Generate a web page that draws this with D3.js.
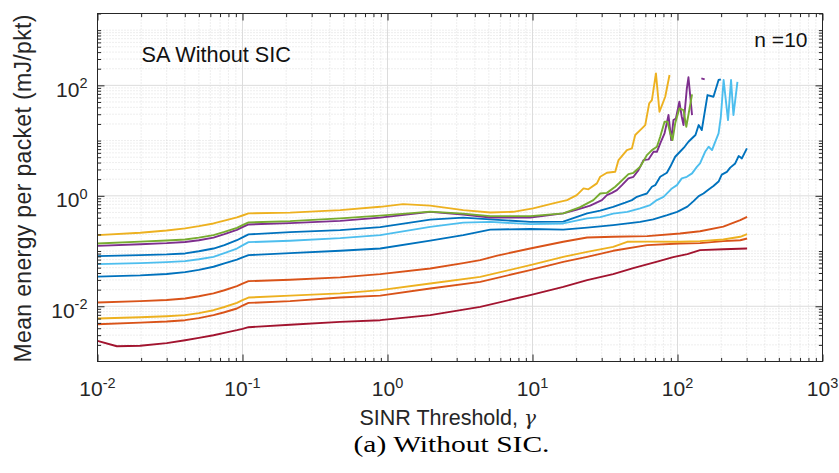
<!DOCTYPE html>
<html>
<head>
<meta charset="utf-8">
<script src="https://cdn.jsdelivr.net/npm/d3@7"></script>
<style>
  body { margin: 0; background: #fff; }
  svg { display: block; font-family: "Liberation Sans", Arial, Helvetica, sans-serif; }
</style>
</head>
<body>
<svg id="chart" width="839" height="473"></svg>
<script>
// ---- data: [SINR threshold gamma, mean energy per packet (mJ/pkt)] ----
const blueUpper = [[0.01,0.0809],[0.0197,0.0843],[0.03,0.087],[0.0402,0.0905],[0.05,0.099],[0.0631,0.111],[0.075,0.128],[0.0915,0.157],[0.1,0.177],[0.110,0.200],[0.213,0.220],[0.472,0.239],[0.891,0.271],[1.97,0.371],[3.33,0.403],[5.11,0.374],[9.64,0.338],[16.3,0.341],[23.8,0.480],[29.3,0.539],[36.0,0.632],[43.6,0.753],[48.5,0.836],[52.5,0.959],[56.8,1.03],[61.5,1.10],[66.6,1.46],[70.2,1.56],[76.0,2.21],[84.5,2.61],[89.1,3.35],[96.4,5.09],[104,6.27],[112,7.72],[119,9.51],[126,11.0],[133,12.6],[140,19.1],[147,15.5],[161,66.7],[177,62.1],[192,125],[199,128]];
const orangeUpper = [[0.01,0.0117],[0.0197,0.0124],[0.03,0.0130],[0.0402,0.0138],[0.05,0.0152],[0.0631,0.0171],[0.075,0.0195],[0.0915,0.0231],[0.1,0.0257],[0.110,0.0285],[0.213,0.0303],[0.472,0.0333],[0.891,0.0382],[1.97,0.0484],[3.33,0.0604],[4.36,0.0684],[5.71,0.0825],[9.64,0.111],[16.3,0.147],[23.8,0.176],[36.0,0.181],[61.8,0.186],[104,0.208],[143,0.228],[207,0.277],[271,0.363],[302,0.417]];
const yellowUpper = [[0.01,0.194],[0.0197,0.214],[0.03,0.235],[0.0402,0.257],[0.05,0.282],[0.0631,0.316],[0.075,0.355],[0.0915,0.406],[0.1,0.44],[0.110,0.480],[0.213,0.496],[0.472,0.551],[0.891,0.632],[1.28,0.708],[1.97,0.665],[3.33,0.551],[5.11,0.500],[7.36,0.513],[10.1,0.591],[13.9,0.728],[17.3,0.836],[20.2,1.03],[22.5,1.36],[24.3,1.31],[27.8,1.68],[29.3,2.21],[32.6,2.61],[37.2,2.72],[39.2,4.43],[44.8,6.73],[48.5,7.22],[51.1,12.6],[55.3,15.5],[59.9,19.1],[63.8,47.2],[66.6,54.2],[71.0,165],[75.1,33.3],[82.3,62.1],[88.1,154]];
const purple = [[0.01,0.124],[0.0197,0.133],[0.03,0.139],[0.0402,0.146],[0.05,0.157],[0.0631,0.175],[0.075,0.202],[0.0915,0.242],[0.1,0.27],[0.110,0.303],[0.213,0.320],[0.472,0.352],[0.891,0.403],[1.97,0.513],[3.33,0.456],[5.11,0.406],[9.64,0.406],[16.3,0.480],[20.3,0.562],[25.0,0.665],[30.1,0.836],[32.6,1.03],[35.3,1.13],[38.2,1.27],[41.4,1.56],[45.9,2.07],[49.7,2.21],[53.8,2.92],[58.3,4.43],[63.1,4.56],[68.3,6.27],[72.1,6.27],[76.0,8.90],[81.4,13.5],[86.7,29.0],[90.5,10.2],[93.8,23.5],[97.5,25.2],[103,50.5],[107,27.0],[110,19.1],[116,88.3],[119,140],[126,29.0],null,[146,134],[154,128]];
const green = [[0.01,0.137],[0.0197,0.148],[0.03,0.155],[0.0402,0.162],[0.05,0.175],[0.0631,0.194],[0.075,0.222],[0.0915,0.263],[0.1,0.295],[0.110,0.330],[0.213,0.348],[0.472,0.390],[0.891,0.438],[1.97,0.517],[3.33,0.476],[5.11,0.429],[9.64,0.429],[16.3,0.480],[21.3,0.624],[26.3,0.836],[29.3,1.10],[32.6,1.13],[37.2,1.46],[39.8,1.72],[45.9,2.47],[49.7,2.61],[55.3,3.35],[61.5,5.46],[66.6,6.73],[72.1,7.72],[76.0,11.7],[81.4,21.9],[85.3,21.9],[89.1,13.5],[92.4,10.2],[96.4,20.5],[103,38.3],[110,35.7],[115,17.8],[126,68.7]];
const lightBlue = [[0.01,0.0579],[0.0197,0.0604],[0.03,0.063],[0.0402,0.0656],[0.05,0.071],[0.0631,0.0786],[0.075,0.092],[0.0915,0.111],[0.1,0.127],[0.110,0.145],[0.213,0.154],[0.472,0.171],[0.891,0.194],[1.97,0.274],[3.33,0.327],[5.11,0.338],[9.64,0.307],[16.3,0.316],[23.8,0.390],[29.3,0.411],[36.0,0.476],[45.0,0.513],[55.3,0.591],[64.8,0.679],[72.1,0.836],[80.1,0.959],[86.7,1.18],[91.5,1.36],[99.1,1.56],[107,2.07],[116,2.21],[126,2.55],[136,3.35],[143,3.86],[155,6.27],[164,7.72],[173,6.73],[182,9.51],[192,13.5],[199,27.0],[208,125],[223,23.5],[234,125],[243,29.0],[259,116]];
const darkRed = [[0.01,0.00236],[0.0136,0.00189],[0.0197,0.00193],[0.03,0.00215],[0.0402,0.00243],[0.05,0.00268],[0.0631,0.00299],[0.075,0.00330],[0.0915,0.00369],[0.1,0.0039],[0.110,0.00418],[0.213,0.00464],[0.472,0.00522],[0.891,0.00560],[1.97,0.00690],[4.36,0.00976],[9.64,0.0159],[16.3,0.0225],[23.8,0.0297],[36.0,0.0382],[49.5,0.0490],[72.4,0.0643],[93.4,0.0775],[117,0.0879],[143,0.104],[207,0.108],[302,0.111]];
const blueLower = [[0.01,0.0344],[0.0197,0.0362],[0.03,0.0385],[0.0402,0.0415],[0.05,0.0455],[0.0631,0.052],[0.075,0.060],[0.0915,0.070],[0.1,0.077],[0.110,0.0843],[0.213,0.0916],[0.472,0.101],[0.891,0.111],[1.97,0.154],[3.33,0.194],[5.11,0.244],[9.64,0.251],[16.3,0.244],[23.8,0.265],[36.0,0.295],[55.3,0.338],[68.0,0.374],[84.9,0.447],[99.5,0.513],[117,0.637],[129,0.802],[140,0.988],[151,1.10],[164,1.30],[177,1.50],[192,1.81],[202,2.42],[219,2.72],[231,3.24],[250,3.86],[264,5.24],[278,4.76],[301,7.22]];
const orangeLower = [[0.01,0.00474],[0.0197,0.00505],[0.03,0.0053],[0.0402,0.00560],[0.05,0.0061],[0.0631,0.00690],[0.075,0.0078],[0.0915,0.00912],[0.1,0.0103],[0.110,0.0115],[0.213,0.0124],[0.472,0.0144],[0.891,0.0156],[1.97,0.0210],[4.36,0.0277],[9.64,0.0451],[16.3,0.0637],[23.8,0.0786],[36.0,0.101],[61.8,0.128],[104,0.137],[143,0.139],[207,0.151],[271,0.157],[302,0.169]];
const yellowLower = [[0.01,0.00601],[0.0197,0.00634],[0.03,0.0066],[0.0402,0.00690],[0.05,0.0075],[0.0631,0.00849],[0.075,0.0097],[0.0915,0.0115],[0.1,0.0129],[0.110,0.0144],[0.213,0.0156],[0.472,0.0171],[0.891,0.0196],[1.97,0.0259],[4.36,0.0341],[9.64,0.0555],[16.3,0.0786],[23.8,0.0968],[36.0,0.119],[45.0,0.147],[61.8,0.148],[104,0.147],[143,0.151],[207,0.162],[271,0.181],[302,0.202]];

// plotting order and colours
const series = [
  { values: blueUpper,   color: "#0072BD" },
  { values: orangeUpper, color: "#D95319" },
  { values: yellowUpper, color: "#EDB120" },
  { values: purple,      color: "#7E2F8E" },
  { values: green,       color: "#77AC30" },
  { values: lightBlue,   color: "#4DBEEE" },
  { values: darkRed,     color: "#A2142F" },
  { values: blueLower,   color: "#0072BD" },
  { values: orangeLower, color: "#D95319" },
  { values: yellowLower, color: "#EDB120" }
];

// axis ticks and labels
const xMajorTicks = [1e-2, 1e-1, 1, 10, 100, 1000];
const xTickExponents = ["-2", "-1", "0", "1", "2", "3"];
const yMajorTicks = [1e-2, 1, 100];
const yTickExponents = ["-2", "0", "2"];

const xLabel = "SINR Threshold, ";
const xLabelSymbol = "\u03B3";
const yLabel = "Mean energy per packet (mJ/pkt)";
const annotation = "SA Without SIC";
const nLabel = "n =10";
const caption = "(a) Without SIC.";

// ---- layout ----
const L = 97.5, R = 822.5, T = 13.5, B = 361.5;
const ink = "#262626";
const svg = d3.select("#chart");

const x = d3.scaleLog().domain([1e-2, 1e3]).range([L, R]);
const y = d3.scaleLog().domain([1e-3, 2e3]).range([B, T]);

// minor tick positions (2..9 within each decade, plus unlabelled decades)
const xMinor = [];
for (let e = -2; e < 3; e++) for (let m = 2; m <= 9; m++) xMinor.push(m * Math.pow(10, e));
const yMinor = [];
for (let e = -3; e <= 3; e++) for (let m = 1; m <= 9; m++) {
  const v = m * Math.pow(10, e);
  if (v > 1e-3 * 1.0001 && v <= 2e3 * 1.0001 && !yMajorTicks.some(t => Math.abs(t - v) / t < 1e-6)) yMinor.push(v);
}

// ---- grid ----
const grid = svg.append("g");
grid.selectAll(".gxm").data(xMinor).join("line")
  .attr("x1", d => x(d)).attr("x2", d => x(d)).attr("y1", T).attr("y2", B)
  .attr("stroke", "#cfcfcf").attr("stroke-width", 0.7).attr("stroke-dasharray", "1 2");
grid.selectAll(".gym").data(yMinor).join("line")
  .attr("x1", L).attr("x2", R).attr("y1", d => y(d)).attr("y2", d => y(d))
  .attr("stroke", "#cfcfcf").attr("stroke-width", 0.7).attr("stroke-dasharray", "1 2");
grid.selectAll(".gxM").data(xMajorTicks.slice(1, -1)).join("line")
  .attr("x1", d => x(d)).attr("x2", d => x(d)).attr("y1", T).attr("y2", B)
  .attr("stroke", "#dcdcdc").attr("stroke-width", 1);
grid.selectAll(".gyM").data(yMajorTicks).join("line")
  .attr("x1", L).attr("x2", R).attr("y1", d => y(d)).attr("y2", d => y(d))
  .attr("stroke", "#dcdcdc").attr("stroke-width", 1);

// ---- series ----
svg.append("clipPath").attr("id", "plotClip")
  .append("rect").attr("x", L).attr("y", T).attr("width", R - L).attr("height", B - T);

const line = d3.line()
  .defined(d => d != null)
  .x(d => x(d[0]))
  .y(d => y(d[1]));

svg.append("g").attr("clip-path", "url(#plotClip)")
  .selectAll("path").data(series).join("path")
  .attr("d", s => line(s.values))
  .attr("fill", "none")
  .attr("stroke", s => s.color)
  .attr("stroke-width", 1.9)
  .attr("stroke-linejoin", "round");

// ---- axes (ticks pointing inward on all four sides) ----
function tickAxis(axisFn, scale, values, size) {
  return axisFn(scale).tickValues(values).tickSize(size).tickFormat("");
}
const axes = svg.append("g");
const addAxis = (axis, transform) => {
  const g = axes.append("g").attr("transform", transform).call(axis);
  g.select(".domain").remove();
  g.selectAll("line").attr("stroke", ink).attr("stroke-width", 1);
};
addAxis(tickAxis(d3.axisBottom, x, xMajorTicks, -7), `translate(0,${B})`);
addAxis(tickAxis(d3.axisBottom, x, xMinor, -3.6), `translate(0,${B})`);
addAxis(tickAxis(d3.axisTop, x, xMajorTicks, -7), `translate(0,${T})`);
addAxis(tickAxis(d3.axisTop, x, xMinor, -3.6), `translate(0,${T})`);
addAxis(tickAxis(d3.axisLeft, y, yMajorTicks, -7), `translate(${L},0)`);
addAxis(tickAxis(d3.axisLeft, y, yMinor, -3.6), `translate(${L},0)`);
addAxis(tickAxis(d3.axisRight, y, yMajorTicks, -7), `translate(${R},0)`);
addAxis(tickAxis(d3.axisRight, y, yMinor, -3.6), `translate(${R},0)`);

axes.append("rect").attr("x", L).attr("y", T).attr("width", R - L).attr("height", B - T)
  .attr("fill", "none").attr("stroke", ink).attr("stroke-width", 1);

// ---- tick labels: 10 with superscript exponent ----
const xl = svg.append("g").attr("fill", ink);
xMajorTicks.forEach((v, i) => {
  const t = xl.append("text").attr("x", x(v)).attr("y", B + 34)
    .attr("text-anchor", "middle").attr("font-size", 21);
  t.append("tspan").text("10");
  t.append("tspan").attr("dy", -8).attr("font-size", 14.5).text(xTickExponents[i]);
});
const yl = svg.append("g").attr("fill", ink);
yMajorTicks.forEach((v, i) => {
  const t = yl.append("text").attr("x", L - 10).attr("y", y(v) + 11.5)
    .attr("text-anchor", "end").attr("font-size", 21);
  t.append("tspan").text("10");
  t.append("tspan").attr("dy", -8.5).attr("font-size", 14.5).text(yTickExponents[i]);
});

// ---- axis titles ----
const xt = svg.append("text").attr("x", 359.5).attr("y", 425)
  .attr("font-size", 21.5).attr("fill", ink);
xt.append("tspan").text(xLabel);
xt.append("tspan").attr("font-family", "'DejaVu Serif', 'Liberation Serif', serif")
  .attr("font-style", "italic").attr("font-size", 20).text(xLabelSymbol);

svg.append("text")
  .attr("transform", "translate(30.5,188.5) rotate(-90)")
  .attr("text-anchor", "middle").attr("font-size", 23)
  .attr("textLength", 348).attr("lengthAdjust", "spacing")
  .attr("fill", ink).text(yLabel);

// ---- annotations ----
svg.append("text").attr("x", 141.5).attr("y", 61.5).attr("font-size", 21.7)
  .attr("fill", "#111").text(annotation);
svg.append("text").attr("x", 807.5).attr("y", 46.5).attr("font-size", 21)
  .attr("text-anchor", "end").attr("fill", "#111").text(nLabel);

// ---- caption ----
svg.append("text").attr("x", 353.5).attr("y", 451.5)
  .attr("font-family", "'Liberation Serif', 'DejaVu Serif', serif")
  .attr("font-size", 24).attr("textLength", 196).attr("lengthAdjust", "spacingAndGlyphs")
  .attr("fill", "#000").text(caption);
</script>
</body>
</html>
